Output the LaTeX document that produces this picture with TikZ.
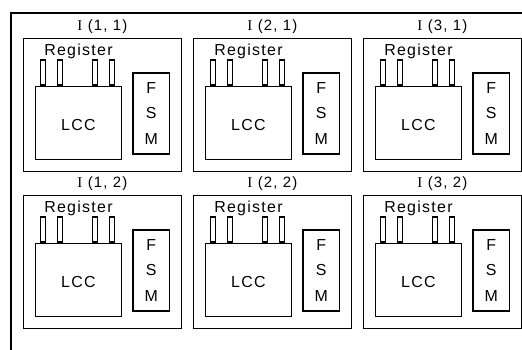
\documentclass[tikz,border=0pt]{standalone}
\usepackage{fontspec}
\setmainfont{Liberation Sans}[LetterSpace=8]
\newfontfamily\serifI{Liberation Serif}
\usetikzlibrary{positioning}

\tikzset{
  cellbox/.style={draw,inner sep=0pt,minimum width=158.5bp,minimum height=133.5bp,anchor=north west},
  lccbox/.style={draw,inner sep=0pt,minimum width=85.5bp,minimum height=73.5bp,text height=15bp,
    font=\fontsize{16}{18}\selectfont},
  fsmbox/.style={draw,inner sep=0pt,minimum width=36.7bp,minimum height=81bp,align=center,
    font=\fontsize{16}{25.5}\selectfont},
  pinbox/.style={draw,inner sep=0pt,minimum width=4.5bp,minimum height=24.7bp},
  regtext/.style={inner sep=0pt,font=\fontsize{16}{18}\selectfont},
  celltitle/.style={inner sep=0pt,font=\fontsize{15}{17}\selectfont}
}

\begin{document}
\begin{tikzpicture}[x=1bp,y=-1bp,line width=1.4bp]
        \useasboundingbox (0,0) rectangle (522,349);
        % Draw the outer frame
        \draw (530,13) -- (11,13) -- (11,360);
        % Draw the cells
        \foreach \col in {1,2,3} {
          \foreach \row in {1,2} {
            \pgfmathsetmacro\cx{22.5+170*(\col-1)}
            \pgfmathsetmacro\cy{\row==1 ? 37.5 : 194.5}
            \node[cellbox] (cell-\col-\row) at (\cx,\cy) {};
            \node[celltitle,above=3.5bp of cell-\col-\row.north] (title-\col-\row) {{\serifI I} (\col, \row)};
            % LCC and its register pins
            \node[lccbox,anchor=north west,below right=48bp and 12.5bp of cell-\col-\row.north west] (lcc-\col-\row) {LCC};
            \foreach \px [count=\k] in {8,25,60,77}
              \node[pinbox,above=0pt of lcc-\col-\row.north west,xshift=\px bp] (pin-\col-\row-\k) {};
            \node[regtext,above=30bp of lcc-\col-\row.north,anchor=base] (reg-\col-\row) {Register};
            % FSM
            \node[fsmbox,anchor=north west,below right=34.6bp and 109.6bp of cell-\col-\row.north west] (fsm-\col-\row) {F\\S\\M};
          }
        }
\end{tikzpicture}
\end{document}
